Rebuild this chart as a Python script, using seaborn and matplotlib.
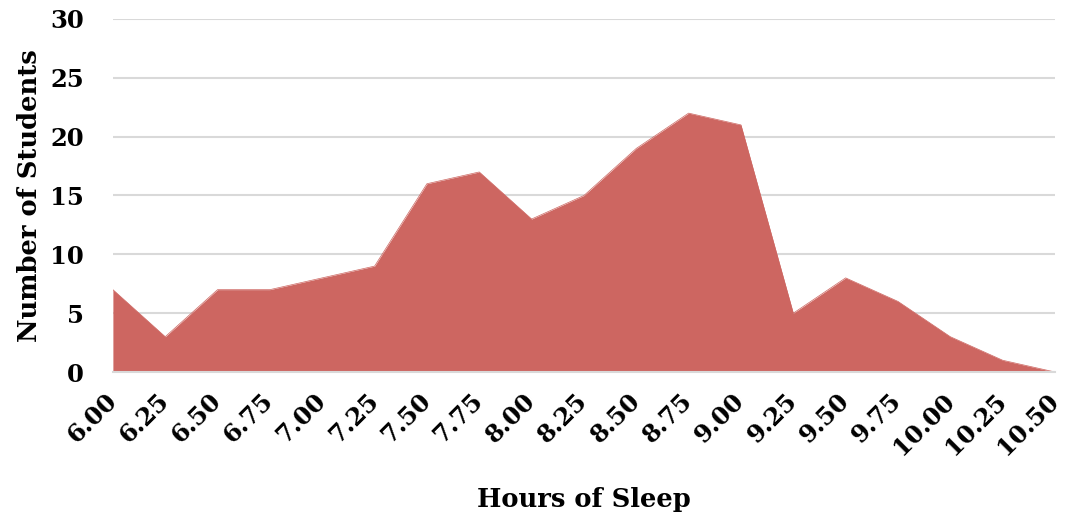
import numpy as np
import pandas as pd
import seaborn as sns
import matplotlib.pyplot as plt

hours = [6.00, 6.25, 6.50, 6.75, 7.00, 7.25, 7.50, 7.75, 8.00, 8.25,
         8.50, 8.75, 9.00, 9.25, 9.50, 9.75, 10.00, 10.25, 10.50]
students = [7, 3, 7, 7, 8, 9, 16, 17, 13, 15, 19, 22, 21, 5, 8, 6, 3, 1, 0]
tick_labels = [f"{h:.2f}" for h in hours]

df = pd.DataFrame({"Hours": hours, "Students": students})

sns.set_style("white")
plt.rcParams['font.family'] = ['DejaVu Serif']
plt.rcParams['font.weight'] = 'bold'
plt.rcParams['text.color'] = 'black'
plt.rcParams['xtick.labelcolor'] = 'black'
plt.rcParams['ytick.labelcolor'] = 'black'
plt.rcParams['axes.labelcolor'] = 'black'

fig = plt.figure(figsize=(10.65, 5.23), dpi=100)
ax = fig.add_axes([0.106, 0.2887, 0.8846, 0.675])

fill_color = "#CD6661"
sns.lineplot(data=df, x="Hours", y="Students", ax=ax, color=fill_color, lw=0.5)
ax.fill_between(df["Hours"], df["Students"], 0, color=fill_color, lw=0, zorder=2)

ax.set_xlim(hours[0], hours[-1])
ax.set_ylim(0, 30)
ax.set_yticks(range(0, 31, 5))
ax.set_xticks(hours)
ax.set_xticklabels(tick_labels, rotation=45, ha="right", va="center",
                   rotation_mode="anchor")

ax.grid(axis="y", color="#D9D9D9", lw=1.5, zorder=0)
ax.set_axisbelow(True)
for s in ["top", "right", "left"]:
    ax.spines[s].set_visible(False)
ax.spines["bottom"].set_color("#D9D9D9")
ax.spines["bottom"].set_linewidth(1.5)
ax.spines["bottom"].set_zorder(3)

ax.tick_params(axis="x", direction="out", length=8, width=1.5, color="#D9D9D9",
               labelsize=17.5, pad=10)
ax.tick_params(axis="y", length=0, labelsize=17.5, pad=21)
for lab in ax.get_xticklabels() + ax.get_yticklabels():
    lab.set_fontweight("bold")

ax.set_xlabel("Hours of Sleep", fontsize=18.5, fontweight="bold", labelpad=20)
ax.set_ylabel("Number of Students", fontsize=18.5, fontweight="bold", labelpad=6)

plt.savefig("out.png", dpi=100)
plt.close()
